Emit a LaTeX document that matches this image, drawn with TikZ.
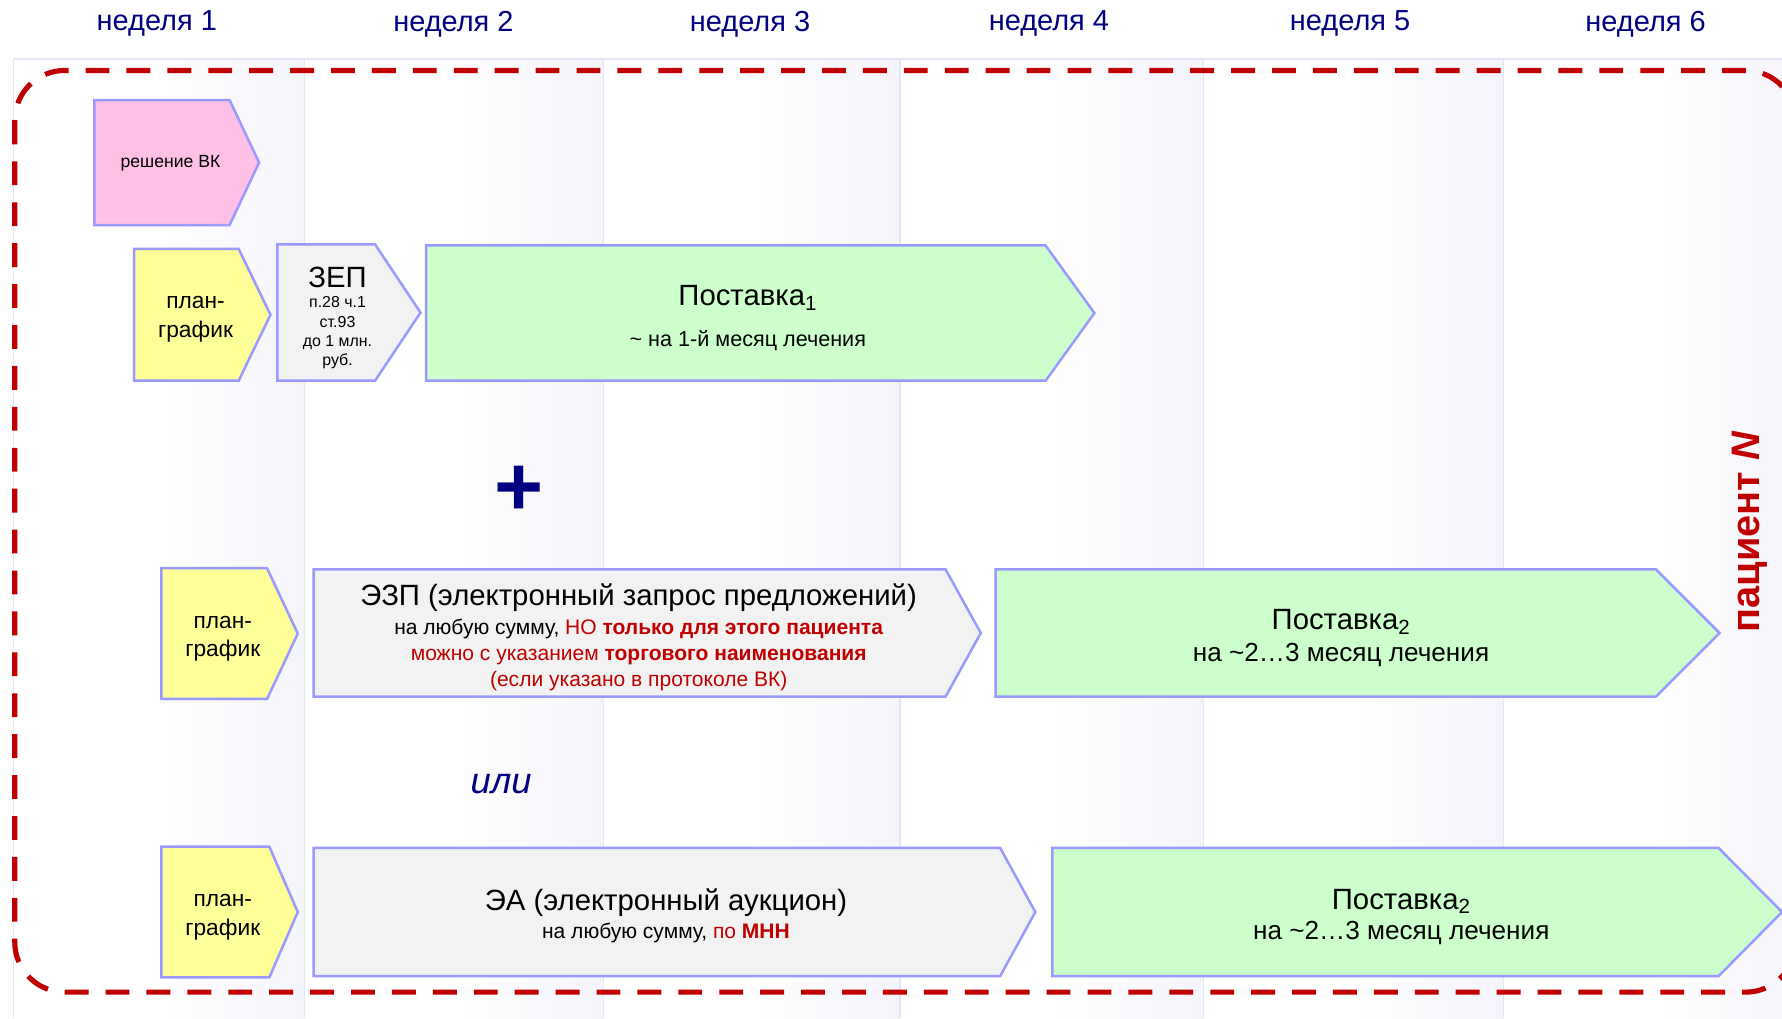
\documentclass[tikz,border=0pt]{standalone}
\usepackage{fontspec}
\setmainfont{Liberation Sans}
\definecolor{cNavy}{RGB}{0,0,128}
\definecolor{cRed}{RGB}{192,0,0}
\definecolor{cBorder}{RGB}{153,153,255}
\definecolor{cPink}{RGB}{255,192,230}
\definecolor{cYellow}{RGB}{255,255,153}
\definecolor{cGray}{RGB}{242,242,242}
\definecolor{cGreen}{RGB}{204,255,204}
\definecolor{cLav}{RGB}{244,244,251}
\definecolor{cGrid}{RGB}{228,228,244}
\newcommand{\chevbox}[6]{%
  \filldraw[boxline, fill=#1] (#2,#3) -- (#4,#3) -- (#5,{(#3+#6)/2}) -- (#4,#6) -- (#2,#6) -- cycle;}
\tikzset{
  boxline/.style={draw=cBorder, line width=2.2pt, line join=miter},
  wk/.style={text=cNavy, inner sep=0pt, font=\fontsize{25.5}{30}\selectfont},
  ttl/.style={inner sep=0pt, font=\fontsize{25.8}{30}\selectfont},
  pgtext/.style={inner sep=0pt, align=center, font=\fontsize{20}{25}\selectfont},
  subtxt/.style={inner sep=0pt, align=center, font=\fontsize{18.5}{23}\selectfont},
  bigsub/.style={inner sep=0pt, align=center, font=\fontsize{23}{28}\selectfont},
  frame/.style={draw=cRed, line width=4.5pt, dash pattern=on 21pt off 15pt, rounded corners=44pt},
}
\begin{document}
\begin{tikzpicture}[x=1pt,y=-1pt]
\useasboundingbox (0,0) rectangle (1568,896);
\clip (0,0) rectangle (1568,896);
\fill[white] (0,0) rectangle (1568,896);
% week columns
\foreach \a/\b in {12/268,268/531,531/792,792/1059,1059/1323,1323/1587}{
  \shade[left color=white,right color=cLav] ({\a+0.5*(\b-\a)},52) rectangle (\b,896);
  \draw[cGrid, line width=1.2pt] (\a,52) -- (\a,896);
}
\draw[cGrid, line width=1.2pt] (12,52) -- (1568,52);
% week labels
\node[wk] (w1) at (138,21) {неделя 1};
\node[wk] (w2) at (399,21) {неделя 2};
\node[wk] (w3) at (660,21) {неделя 3};
\node[wk] (w4) at (923,21) {неделя 4};
\node[wk] (w5) at (1188,21) {неделя 5};
\node[wk] (w6) at (1448,21) {неделя 6};
% dashed patient frame
\draw[frame] (13,62) rectangle (1580,873);
% row 0
\chevbox{cPink}{83}{88}{202}{228}{198}
\node[inner sep=0pt, font=\fontsize{15.5}{18}\selectfont] (vk) at (150,144) {решение ВК};
% row 1
\chevbox{cYellow}{118}{219}{210}{238}{335}
\node[pgtext] (pg1) at (172,281) {план-\\график};
\chevbox{cGray}{244}{215}{330}{370}{335}
\node[ttl] (zep) at (297,244) {ЗЕП};
\node[inner sep=0pt, align=center, font=\fontsize{14}{17}\selectfont] (zepsub) at (297,293) {п.28 ч.1\\ст.93\\до 1 млн.\\руб.};
\chevbox{cGreen}{375}{216}{920}{963}{335}
\node[ttl] (post1) at (658,262) {Поставка\textsubscript{1}};
\node[inner sep=0pt, font=\fontsize{19}{23}\selectfont] (post1sub) at (658,300) {\textasciitilde{} на 1-й месяц лечения};
% plus
\node[inner sep=0pt, text=cNavy, font=\fontsize{74}{74}\selectfont\bfseries] (plus) at (457,432) {+};
% row 2
\chevbox{cYellow}{142}{500}{235}{262}{615}
\node[pgtext] (pg2) at (196,562) {план-\\график};
\chevbox{cGray}{276}{501}{832}{863}{613}
\node[ttl] (ezp) at (562,526) {ЭЗП (электронный запрос предложений)};
\node[subtxt] (ezpsub) at (562,576) {на любую сумму, \textcolor{cRed}{НО \textbf{только для этого пациента}}\\
  \textcolor{cRed}{можно с указанием \textbf{торгового наименования}}\\
  \textcolor{cRed}{(если указано в протоколе ВК)}};
\chevbox{cGreen}{876}{501}{1457}{1513}{613}
\node[ttl] (post2a) at (1180,547) {Поставка\textsubscript{2}};
\node[bigsub] (post2asub) at (1180,576) {на \textasciitilde2…3 месяц лечения};
% or
\node[inner sep=0pt, text=cNavy, font=\fontsize{32}{36}\selectfont\itshape] (ili) at (441,690) {или};
% row 3
\chevbox{cYellow}{142}{745}{237}{262}{860}
\node[pgtext] (pg3) at (196,807) {план-\\график};
\chevbox{cGray}{276}{746}{880}{911}{859}
\node[ttl] (ea) at (586,794) {ЭА (электронный аукцион)};
\node[subtxt] (easub) at (586,821) {на любую сумму, \textcolor{cRed}{по \textbf{МНН}}};
\chevbox{cGreen}{926}{746}{1512}{1568}{859}
\node[ttl] (post2b) at (1233,793) {Поставка\textsubscript{2}};
\node[bigsub] (post2bsub) at (1233,821) {на \textasciitilde2…3 месяц лечения};
% patient label
\node[inner sep=0pt, rotate=90, text=cRed, font=\fontsize{35}{40}\selectfont\bfseries] (pat) at (1540,468) {пациент \textit{N}};
\end{tikzpicture}
\end{document}
